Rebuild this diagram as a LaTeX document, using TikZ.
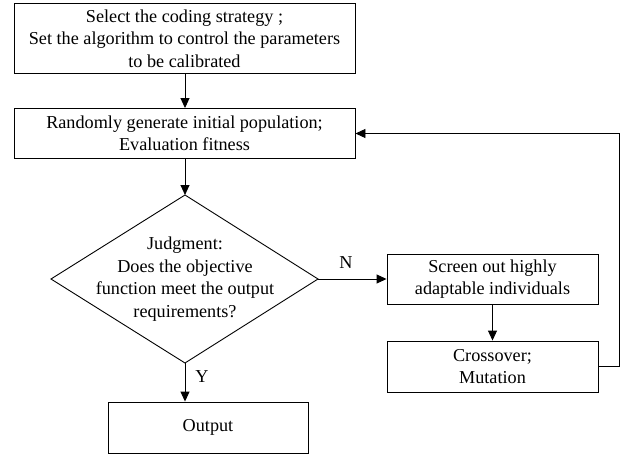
\documentclass[tikz,border=0pt]{standalone}
\usepackage{fontspec}
\setmainfont{Liberation Serif}
\usetikzlibrary{arrows.meta}
\begin{document}
\begin{tikzpicture}[x=1pt,y=-1pt,
  box/.style={draw, line width=0.9pt, inner sep=0pt, align=center, font=\fontsize{18.2}{22.5}\selectfont},
  lbl/.style={font=\fontsize{18.2}{22.5}\selectfont, inner sep=0pt},
  arr/.style={line width=0.9pt, -{Triangle[length=10pt,width=9pt]}},
  ln/.style={line width=0.9pt}]
\useasboundingbox (0,0) rectangle (632,455);
\node[box, minimum width=341pt, minimum height=70pt] (b1) at (184.5,38.5) {Select the coding strategy ;\\Set the algorithm to control the parameters\\to be calibrated};
\node[box, minimum width=341pt, minimum height=50pt] (b2) at (184.5,133.5) {Randomly generate initial population;\\Evaluation fitness};
\coordinate (dt) at (185,195);
\coordinate (dl) at (51,279);
\coordinate (dr) at (318,279);
\coordinate (db) at (185,363);
\draw[ln] (dt) -- (dr) -- (db) -- (dl) -- cycle;
\node[lbl, align=center] (dtext) at (185,279) {Judgment:\\Does the objective\\function meet the output\\requirements?};
\node[box, minimum width=211pt, minimum height=50pt] (b3) at (492.5,279) {Screen out highly\\adaptable individuals};
\node[box, minimum width=211pt, minimum height=51pt] (b4) at (492.5,366.5) {Crossover;\\Mutation};
\node[box, minimum width=200pt, minimum height=51pt] (b5) at (208,427.5) {Output};
\draw[arr] (b1.south -| dt) -- (b2.north -| dt);
\draw[arr] (b2.south -| dt) -- (dt);
\draw[arr] (dr) -- (b3.west);
\draw[arr] (b3.south) -- (b4.north);
\draw[arr] (db) -- (b5.north -| db);
\coordinate (fr) at (619,0);
\draw[arr] (b4.east) -| (fr |- b2.east) -- (b2.east);
\node[lbl] (nl) at (346,263) {N};
\node[lbl] (yl) at (202,377) {Y};
\end{tikzpicture}
\end{document}
